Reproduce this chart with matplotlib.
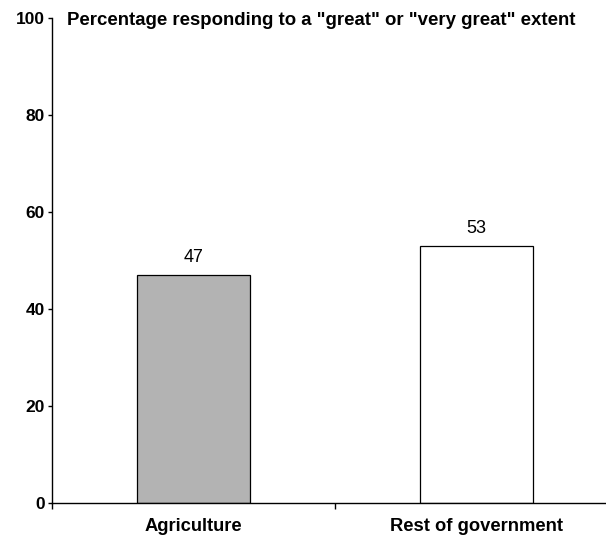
import numpy as np
import matplotlib.pyplot as plt
from matplotlib.transforms import blended_transform_factory

plt.rcParams['font.family'] = ['Liberation Sans', 'DejaVu Sans']

# data
categories = ['Agriculture', 'Rest of government']
values = [47, 53]
bar_colors = ['#b3b3b3', '#ffffff']
title = 'Percentage responding to a "great" or "very great" extent'

fig = plt.figure(figsize=(6.06, 5.36), dpi=100)
# axes runs past the right edge, as in the original (cropped) chart
ax = fig.add_axes([52 / 606, 1 - 503 / 536, 566 / 606, 485 / 536])

x = np.arange(len(categories))
ax.bar(x, values, width=0.4, color=bar_colors, edgecolor='black', linewidth=0.9)

for xi, v in zip(x, values):
    ax.text(xi, v + 2.75, str(v), ha='center', va='baseline', fontsize=13)

ax.set_xlim(-0.5, 1.5)
ax.set_ylim(0, 100)
ax.set_yticks(np.arange(0, 101, 20))
ax.tick_params(axis='y', labelsize=12.5, length=3, width=1, pad=2)
for lbl in ax.get_yticklabels():
    lbl.set_fontweight('bold')

# category labels, with ticks only at the category boundaries
ax.set_xticks([-0.5, 0.5])
ax.set_xticklabels([])
ax.tick_params(axis='x', length=4, width=1)
trans = blended_transform_factory(ax.transData, fig.transFigure)
for xi, c in zip(x, categories):
    ax.text(xi, 1 - 531 / 536, c, ha='center', va='baseline', fontsize=13.2,
            fontweight='bold', transform=trans)

ax.spines['top'].set_visible(False)
ax.spines['right'].set_visible(False)
ax.spines['left'].set_linewidth(1)
ax.spines['bottom'].set_linewidth(1)

fig.text(67 / 606, 1 - 25 / 536, title, ha='left', va='baseline', fontsize=13.4,
         fontweight='bold')

fig.savefig('out.png', dpi=100)
